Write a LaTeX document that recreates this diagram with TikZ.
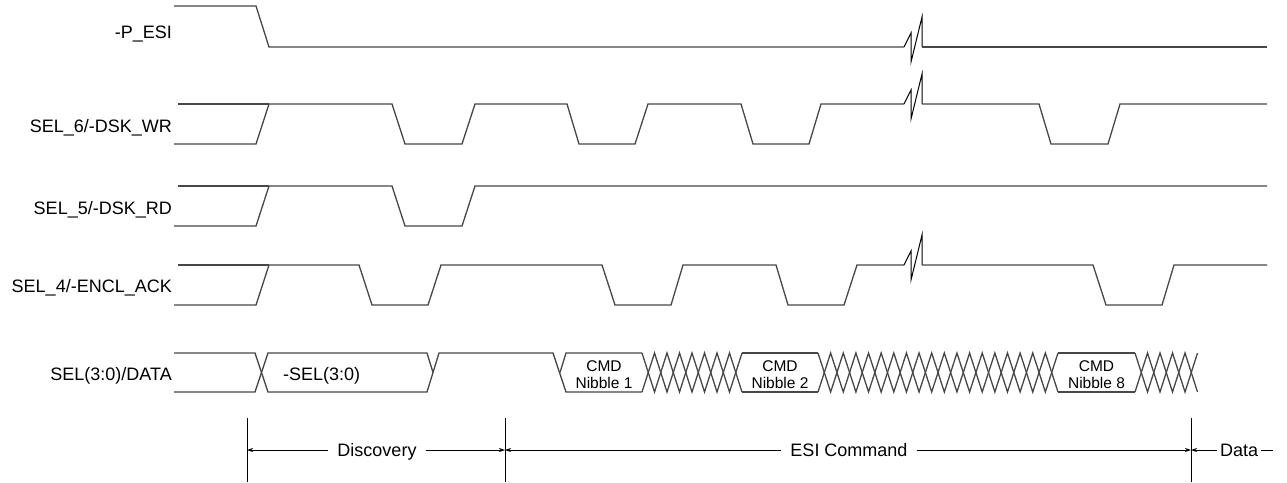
\documentclass[tikz,border=0pt]{standalone}
\usepackage{fontspec}
\setmainfont{Liberation Sans}
\usetikzlibrary{arrows.meta}
\newcommand\zigz[3]{%
  \pgfmathsetmacro\zstep{(#2-#1)/#3}%
  \draw[sig] (#1,353) \foreach \k in {1,...,#3}{ -- ({#1+\k*\zstep},{ifthenelse(isodd(\k),392,353)}) };
  \draw[sig] (#1,392) \foreach \k in {1,...,#3}{ -- ({#1+\k*\zstep},{ifthenelse(isodd(\k),353,392)}) };
}
\newcommand\brkat[1]{%
  \draw[brkline] (904,#1) -- (911,{#1-14}) -- (911,{#1+15}) -- (922,{#1-30}) -- (922,#1);
}
\begin{document}
\begin{tikzpicture}[x=1pt,y=-1pt,
  sig/.style={line width=1.3pt, draw=black!72, line join=miter},
  brkline/.style={line width=1pt, draw=black},
  lab/.style={anchor=base east, inner sep=0pt, font=\fontsize{18}{20}\selectfont},
  nib/.style={align=center, inner sep=0pt, font=\fontsize{15.5}{16.3}\selectfont},
  dim/.style={line width=0.9pt, draw=black},
  dimlab/.style={anchor=base, inner xsep=9pt, inner ysep=0pt, font=\fontsize{18}{20}\selectfont},
  tip/.style={-{Stealth[length=6pt,width=4pt]}}
]
\useasboundingbox (0,0) rectangle (1287,482);

% labels
\node[lab] (lpesi) at (172,38.5) {-P\_ESI};
\node[lab] (lsel6) at (172,132) {SEL\_6/-DSK\_WR};
\node[lab] (lsel5) at (172,214) {SEL\_5/-DSK\_RD};
\node[lab] (lsel4) at (172,292.5) {SEL\_4/-ENCL\_ACK};
\node[lab] (ldata) at (172,380) {SEL(3:0)/DATA};

% -P_ESI
\draw[sig] (174,6) -- (256,6) -- (269,47) -- (904,47);
\brkat{47}
\draw[sig] (922,47) -- (1267,47);

% SEL_6
\draw[sig] (178,104) -- (269,104);
\draw[sig] (174,144) -- (256,144) -- (269,104) -- (392,104) -- (405,144) -- (462,144) -- (475,104)
  -- (567,104) -- (579,144) -- (635,144) -- (648,104) -- (741,104) -- (753,144) -- (809,144) -- (821,104) -- (904,104);
\brkat{104}
\draw[sig] (922,104) -- (1039,104) -- (1051,144) -- (1108,144) -- (1120,104) -- (1267,104);

% SEL_5
\draw[sig] (178,186) -- (269,186);
\draw[sig] (174,226) -- (256,226) -- (269,186) -- (392,186) -- (405,226) -- (462,226) -- (475,186) -- (1267,186);

% SEL_4
\draw[sig] (178,265) -- (269,265);
\draw[sig] (174,305) -- (256,305) -- (269,265) -- (359,265) -- (372,305) -- (428,305) -- (441,265)
  -- (602,265) -- (615,305) -- (671,305) -- (683,265) -- (776,265) -- (788,305) -- (844,305) -- (857,265) -- (904,265);
\brkat{265}
\draw[sig] (922,265) -- (1093,265) -- (1106,305) -- (1162,305) -- (1174,265) -- (1267,265);

% DATA bus
\draw[sig] (174,353) -- (255,353) -- (268,392) -- (427,392) -- (439,353) -- (553,353) -- (566,392) -- (642,392);
\draw[sig] (174,392) -- (255,392) -- (268,353) -- (427,353) -- (433,372.5);
\draw[sig] (560,372.5) -- (566,353) -- (642,353);
\zigz{642}{742}{8}
\draw[sig] (742,353) -- (818,353);
\draw[sig] (742,392) -- (818,392);
\zigz{818}{1058}{19}
\draw[sig] (1058,353) -- (1135,353);
\draw[sig] (1058,392) -- (1135,392);
\zigz{1135}{1197.5}{5}

\node[anchor=base west, inner sep=0pt, font=\fontsize{18}{20}\selectfont] (nsel) at (283,380) {-SEL(3:0)};
\node[nib] (nib1) at (604,374.6) {CMD\\Nibble 1};
\node[nib] (nib2) at (780,374.6) {CMD\\Nibble 2};
\node[nib] (nib8) at (1096.5,374.6) {CMD\\Nibble 8};

% dimension markers
\coordinate (m1) at (247,450);
\coordinate (m2) at (505,450);
\coordinate (m3) at (1191,450);
\coordinate (mend) at (1273,450);
\draw[dim] (247,418) -- (247,482);
\draw[dim] (505,418) -- (505,482);
\draw[dim] (1191,418) -- (1191,482);

\node[dimlab] (disc) at (377,456.5) {Discovery};
\node[dimlab] (esic) at (849,456.5) {ESI Command};
\node[dimlab, inner xsep=3pt] (datal) at (1239,456.5) {Data};

\draw[dim,tip] (disc.west |- m1) -- (m1);
\draw[dim,tip] (disc.east |- m1) -- (m2);
\draw[dim,tip] (esic.west |- m1) -- (m2);
\draw[dim,tip] (esic.east |- m1) -- (m3);
\draw[dim,tip] (datal.west |- m1) -- (m3);
\draw[dim] (datal.east |- m1) -- (mend);
\end{tikzpicture}
\end{document}
